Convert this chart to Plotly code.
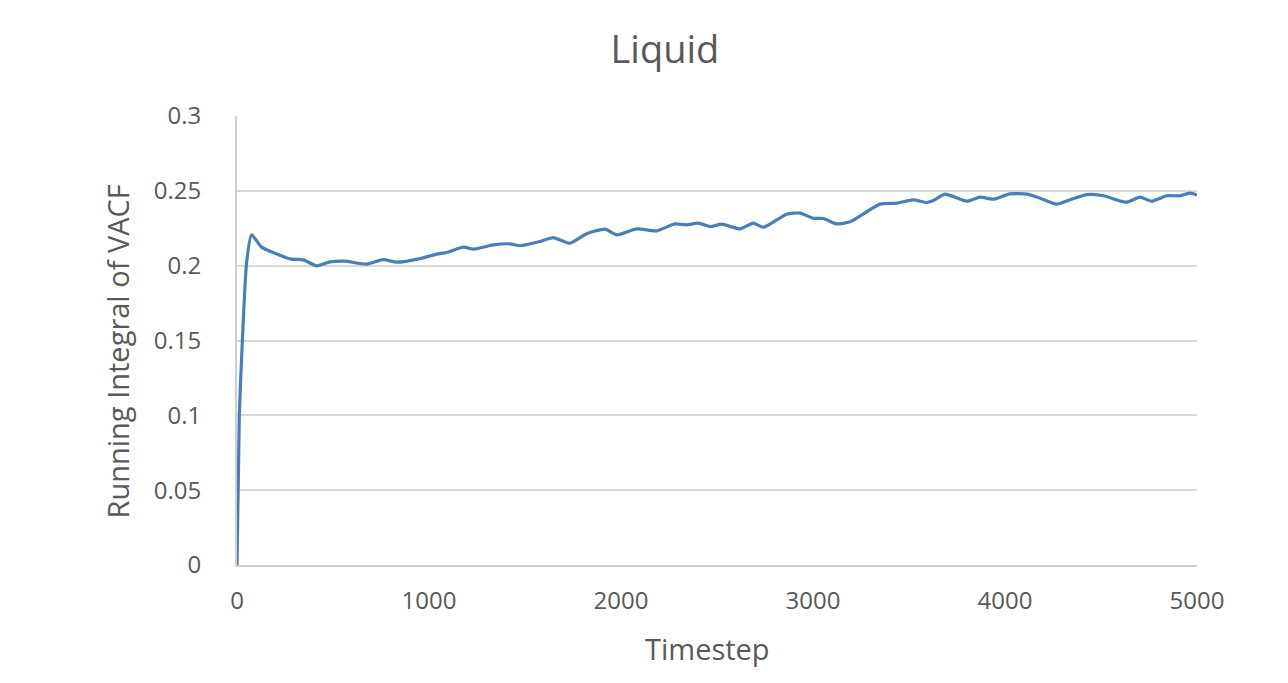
import plotly.graph_objects as go

# running integral of the VACF
timestep = [0, 12, 28, 50, 76, 128, 198, 276, 345, 415, 484, 562, 675, 762, 832,
            953, 1040, 1092, 1179, 1231, 1335, 1422, 1474, 1578, 1647, 1734, 1821,
            1917, 1977, 2082, 2186, 2281, 2342, 2403, 2464, 2524, 2620, 2689, 2741,
            2863, 2932, 3002, 3054, 3123, 3193, 3349, 3436, 3523, 3592, 3627, 3688,
            3801, 3870, 3939, 4026, 4113, 4182, 4269, 4339, 4425, 4512, 4634, 4703,
            4764, 4842, 4911, 4964, 5000]
vacf_integral = [0.0, 0.100, 0.150, 0.202, 0.2206, 0.2124, 0.2083, 0.2045, 0.2039,
                 0.1999, 0.2025, 0.2030, 0.2010, 0.2041, 0.2023, 0.2047, 0.2077,
                 0.2088, 0.2124, 0.2110, 0.2139, 0.2146, 0.2133, 0.2161, 0.2188,
                 0.2150, 0.2213, 0.2244, 0.2206, 0.2246, 0.2233, 0.2279, 0.2273,
                 0.2284, 0.2261, 0.2277, 0.2246, 0.2284, 0.2257, 0.2344, 0.2351,
                 0.2317, 0.2315, 0.2279, 0.2293, 0.2411, 0.2418, 0.2440, 0.2422,
                 0.2435, 0.2478, 0.2431, 0.2458, 0.2444, 0.2480, 0.2478, 0.2451,
                 0.2411, 0.2440, 0.2475, 0.2467, 0.2424, 0.2458, 0.2431, 0.2467,
                 0.2467, 0.2485, 0.2473]

x_ticks = [0, 1000, 2000, 3000, 4000, 5000]
y_ticks = [0, 0.05, 0.1, 0.15, 0.2, 0.25, 0.3]
y_labels = ["0", "0.05", "0.1", "0.15", "0.2", "0.25", "0.3"]

FONT = "Open Sans, Noto Sans, sans-serif"
TEXT = "#595959"

fig = go.Figure()
fig.add_trace(
    go.Scatter(
        x=timestep,
        y=vacf_integral,
        mode="lines",
        line=dict(color="#4a7ebb", width=3.2, shape="spline", smoothing=0.6),
        showlegend=False,
    )
)

# axis titles as annotations so they sit where the original puts them
fig.add_annotation(
    text="Timestep",
    xref="paper", yref="paper",
    x=0.4896, y=0,
    xanchor="center", yanchor="middle",
    yshift=-83,
    showarrow=False,
    font=dict(size=29, color=TEXT, family=FONT),
)
fig.add_annotation(
    text="Running Integral of VACF",
    xref="paper", yref="paper",
    x=0, y=0.4755,
    xanchor="center", yanchor="middle",
    xshift=-119,
    textangle=-90,
    showarrow=False,
    font=dict(size=29, color=TEXT, family=FONT),
)

# the page body adds an 8px offset, so margins are shifted to compensate
fig.update_layout(
    width=1288,
    height=683,
    paper_bgcolor="white",
    plot_bgcolor="white",
    font=dict(family=FONT, color=TEXT),
    title=dict(
        text="Liquid",
        x=0.510,
        xanchor="center",
        y=0.9385,
        yanchor="middle",
        font=dict(size=38, color=TEXT, family=FONT),
    ),
    margin=dict(l=229, r=99, t=108, b=126),
    xaxis=dict(
        range=[0, 5000],
        tickvals=x_ticks,
        ticks="",
        showgrid=False,
        showline=True,
        linecolor="#d0d0d0",
        linewidth=2,
        zeroline=False,
        tickfont=dict(size=24, color=TEXT),
        ticklabelstandoff=13,
    ),
    yaxis=dict(
        range=[0, 0.3],
        tickvals=y_ticks,
        ticktext=y_labels,
        ticks="",
        showgrid=True,
        gridcolor="#d9d9d9",
        gridwidth=1.5,
        showline=True,
        linecolor="#d0d0d0",
        linewidth=2,
        zeroline=False,
        tickfont=dict(size=24, color=TEXT),
        ticklabelstandoff=29,
    ),
)

fig.write_html("out.html")
